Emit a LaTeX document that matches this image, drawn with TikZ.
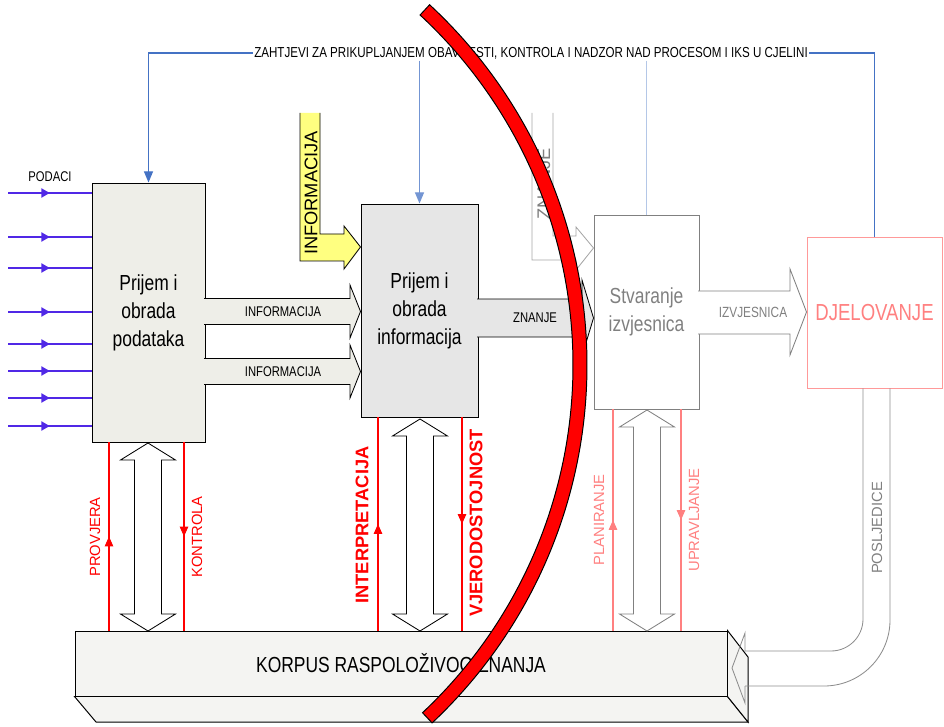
\documentclass[tikz,border=0pt]{standalone}
\usepackage{fontspec}
\setmainfont{Liberation Sans}
\newfontfamily\uski[FakeStretch=0.8]{Liberation Sans}
\usetikzlibrary{arrows.meta, positioning, decorations.markings}
\tikzset{x=0.025cm, y=-0.025cm, >={Triangle[length=8pt,width=6.5pt]}}
\newcommand\pxu{0.025cm}

\definecolor{podacifill}{RGB}{238,238,232}
\definecolor{infofill}{RGB}{230,230,230}
\definecolor{korpusfill}{RGB}{244,244,242}
\definecolor{ulaz}{RGB}{80,40,230}
\definecolor{nadzor}{RGB}{68,114,196}
\definecolor{nadzorlight}{RGB}{180,199,231}
\definecolor{sivo}{RGB}{128,128,128}
\definecolor{svijetlocrveno}{RGB}{255,128,128}
\definecolor{zuto}{RGB}{255,255,128}

\begin{document}
\begin{tikzpicture}
% Style
[
    line join=miter,
    box/.style={draw, line width=0.7pt, inner sep=0pt, align=center},
    big text/.style={font=\uski\fontsize{15.5}{19.9}\selectfont},
    small text/.style={font=\uski\fontsize{10}{12}\selectfont},
    side text/.style={font=\fontsize{10.5}{12}\selectfont, rotate=90},
    bold side text/.style={font=\bfseries\fontsize{13}{15}\selectfont, rotate=90},
    input line/.style={ulaz, line width=1.3pt, postaction={decorate},
        decoration={markings, mark=at position 0.5 with {\arrow{Triangle[length=6pt,width=6.5pt]}}}},
    control line/.style={line width=0.8pt, postaction={decorate},
        decoration={markings, mark=at position 0.5 with {\arrow{Triangle[length=7pt,width=6pt]}}}},
    block arrow/.style={line width=0.6pt},
    request line/.style={nadzor, line width=0.8pt},
    tube/.style={sivo!90, line width=0.6pt}
]

%=================================== Start ===================================
{
    \useasboundingbox (0,0) rectangle (944,727);

    % Define: Boxes
    \node[box, fill=podacifill, minimum width=113*\pxu, minimum height=259*\pxu, big text]
        (podaci) at (148.5,312.5) {Prijem i\\obrada\\podataka};
    \node[box, fill=infofill, minimum width=117*\pxu, minimum height=213*\pxu, big text]
        (informacije) at (419.5,310.5) {Prijem i\\obrada\\informacija};
    \node[box, draw=sivo, text=sivo, minimum width=105*\pxu, minimum height=194*\pxu, big text]
        (izvjesnice) at (646.5,312) {Stvaranje\\izvjesnica};
    \node[box, draw=svijetlocrveno!80, text=svijetlocrveno, minimum width=135*\pxu, minimum height=151*\pxu,
        font=\uski\fontsize{16.5}{20}\selectfont] (djelovanje) at (874.5,312.5) {DJELOVANJE};

    % Define: Korpus (3D box)
    \node[box, fill=korpusfill, minimum width=652*\pxu, minimum height=65*\pxu,
        font=\uski\fontsize{15.5}{18}\selectfont] (korpus) at (401,663.5) {KORPUS RASPOLOŽIVOG ZNANJA};
    \draw[fill=korpusfill, line width=0.7pt] (korpus.south west) -- (korpus.south east) -- (748,722) -- (96,722) -- cycle;
    \draw[fill=korpusfill, line width=0.7pt] (korpus.north east) -- (748,657) -- (748,722) -- (korpus.south east) -- cycle;

    % Draw: Requests (top)
    \node[small text, font=\uski\fontsize{10.3}{12}\selectfont, inner sep=1pt] (zahtjev) at (531,53)
        {ZAHTJEVI ZA PRIKUPLJANJEM OBAVIJESTI, KONTROLA I NADZOR NAD PROCESOM I IKS U CJELINI};
    \draw[request line, ->] (zahtjev.west) -| (podaci.north);
    \draw[request line] (zahtjev.east) -| (djelovanje.north);
    \draw[request line, nadzor!75, ->] (zahtjev.south -| informacije.north) -- (informacije.north);
    \draw[request line, nadzorlight] (zahtjev.south -| izvjesnice.north) -- (izvjesnice.north);

    % Draw: Input data
    \node[small text] (podaci oznaka) at (50,177) {PODACI};
    \foreach \y in {193,237,268,312,344,371,398,426} {
        \coordinate (ulaz\y) at (8,\y);
        \draw[input line] (ulaz\y) -- (podaci.west |- ulaz\y);
    }

    % Draw: INFORMACIJA block arrows
    \foreach \yc in {311.5,371.5} {
        \filldraw[block arrow, fill=podacifill] (204,\yc-13) -- (350,\yc-13) -- (350,\yc-26.5)
            -- (informacije.west |- 0,\yc) -- (350,\yc+26.5) -- (350,\yc+13) -- (204,\yc+13);
        \node[small text] at (283,\yc) {INFORMACIJA};
    }

    % Draw: yellow INFORMACIJA
    \filldraw[block arrow, fill=zuto] (320,113) -- (320,234) -- (344,234) -- (344,226)
        -- (informacije.west |- 0,247) -- (344,269) -- (344,261) -- (300,261) -- (300,113);
    \node[rotate=90, font=\fontsize{13}{15}\selectfont] (info oznaka) at (311,193) {INFORMACIJA};

    % Draw: gray ZNANJE (top)
    \filldraw[block arrow, draw=sivo!70, fill=white] (553,113) -- (553,236) -- (576,236) -- (576,227)
        -- (izvjesnice.west |- 0,248) -- (576,270) -- (576,260) -- (532,260) -- (532,113);
    \node[rotate=90, text=sivo, font=\fontsize{13}{15}\selectfont] (znanje oznaka) at (544,184) {ZNANJE};

    % Draw: ZNANJE block arrow
    \filldraw[block arrow, fill=infofill] (477,299) -- (582,299) -- (582,280)
        -- (izvjesnice.west |- 0,318) -- (582,356) -- (582,337) -- (477,337);
    \node[small text] (znanje) at (535,318) {ZNANJE};

    % Draw: IZVJESNICA block arrow
    \filldraw[block arrow, draw=sivo, fill=white] (698,291) -- (790,291) -- (790,269)
        -- (djelovanje.west |- 0,312) -- (790,355) -- (790,334) -- (698,334);
    \node[small text, text=sivo, font=\uski\fontsize{10.5}{12}\selectfont] (izvjesnica) at (753,312) {IZVJESNICA};

    % Draw: double arrows to korpus
    \foreach \cx/\vrh/\boja in {148/443/black, 420/419/black, 647/410/sivo} {
        \draw[\boja, fill=white, line width=0.6pt] (\cx,\vrh) -- (\cx+27.5,\vrh+17) -- (\cx+13.5,\vrh+17)
            -- (\cx+13.5,614) -- (\cx+27.5,614) -- (\cx,631) -- (\cx-27.5,614) -- (\cx-13.5,614)
            -- (\cx-13.5,\vrh+17) -- (\cx-27.5,\vrh+17) -- cycle;
    }

    % Draw: control lines
    \coordinate (provjera) at (109,0);
    \coordinate (kontrola) at (184,0);
    \coordinate (interpretacija) at (378,0);
    \coordinate (vjerodostojnost) at (462,0);
    \coordinate (planiranje) at (613,0);
    \coordinate (upravljanje) at (681,0);
    \draw[control line, red] (provjera |- korpus.north) -- (provjera |- podaci.south);
    \draw[control line, red] (kontrola |- podaci.south) -- (kontrola |- korpus.north);
    \draw[control line, red] (interpretacija |- korpus.north) -- (interpretacija |- informacije.south);
    \draw[control line, red] (vjerodostojnost |- informacije.south) -- (vjerodostojnost |- korpus.north);
    \draw[control line, svijetlocrveno] (planiranje |- korpus.north) -- (planiranje |- izvjesnice.south);
    \draw[control line, svijetlocrveno] (upravljanje |- izvjesnice.south) -- (upravljanje |- korpus.north);

    \node[side text, text=red] (provjera oznaka) at (95,537) {PROVJERA};
    \node[side text, text=red] (kontrola oznaka) at (197,537) {KONTROLA};
    \node[bold side text, text=red] (interpretacija oznaka) at (362,525) {INTERPRETACIJA};
    \node[bold side text, text=red] (vjerodostojnost oznaka) at (476,523) {VJERODOSTOJNOST};
    \node[side text, text=svijetlocrveno] (planiranje oznaka) at (599,520) {PLANIRANJE};
    \node[side text, text=svijetlocrveno] (upravljanje oznaka) at (694,520) {UPRAVLJANJE};

    % Draw: POSLJEDICE tube
    \draw[tube, rounded corners=1.65cm] (djelovanje.south -| 890,0) -- (890,686) -- (745,686);
    \draw[tube, rounded corners=0.8cm] (djelovanje.south -| 863,0) -- (863,651) -- (745,651);
    \draw[tube] (745,651) -- (745,633) -- (732,668) -- (745,703) -- (745,686);
    \node[side text, text=sivo] (posljedice oznaka) at (877,528) {POSLJEDICE};

    % Draw: red arc
    \coordinate (luk) at (96,365);
    \filldraw[fill=red, draw=black, line width=0.7pt] ([shift={(luk)}]-47.2:491)
        arc[start angle=-47.2, end angle=46.8, radius=491]
        -- ([shift={(luk)}]46.8:477) arc[start angle=46.8, end angle=-47.2, radius=477] -- cycle;
}
%==================================== END ====================================

\end{tikzpicture}
\end{document}
